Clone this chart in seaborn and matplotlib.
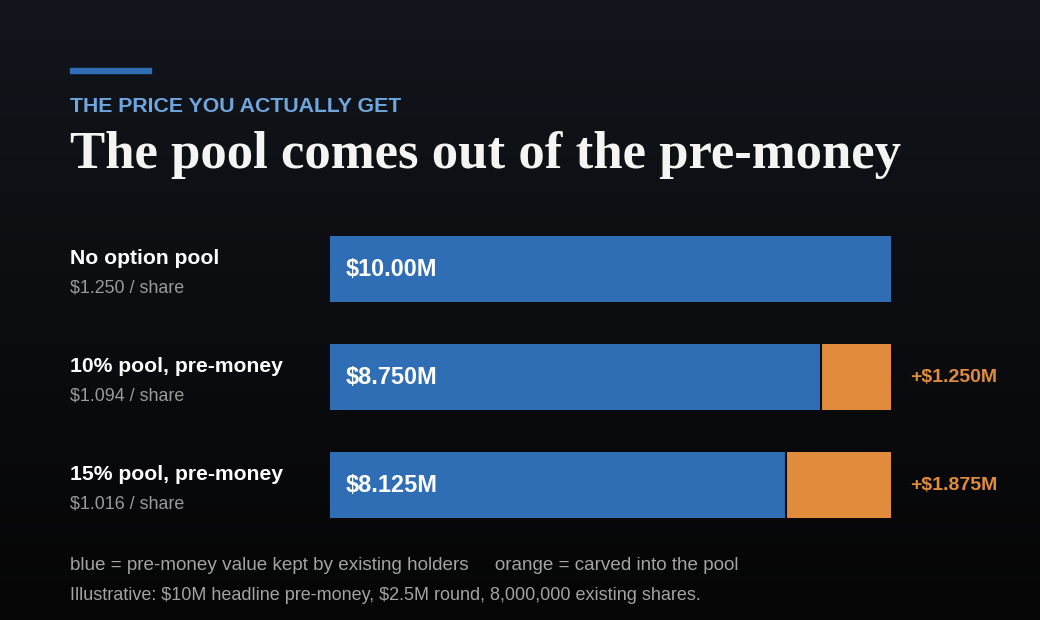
import numpy as np
import pandas as pd
import matplotlib
matplotlib.use("Agg")
import matplotlib.pyplot as plt
import seaborn as sns

# data
scenarios = ["No option pool", "10% pool, pre-money", "15% pool, pre-money"]
per_share = ["$1.250 / share", "$1.094 / share", "$1.016 / share"]
kept = [10.0, 8.75, 8.125]          # $M kept by existing holders
pool = [0.0, 1.25, 1.875]           # $M carved into the pool

BLUE = "#2f6db5"
ORANGE = "#e08c3c"
BG_TOP = "#12151c"
BG_BOT = "#050505"

df = pd.DataFrame({"scenario": scenarios, "kept": kept, "pool": pool})
df["total"] = df["kept"] + df["pool"]

sns.set_theme(style="white")
plt.rcParams["font.family"] = ["Liberation Sans", "DejaVu Sans"]
plt.rcParams["text.parse_math"] = False

W, H = 1040, 620
fig = plt.figure(figsize=(W / 100, H / 100), dpi=100)

# gradient background
bg = fig.add_axes([0, 0, 1, 1])
top = np.array(matplotlib.colors.to_rgb(BG_TOP))
bot = np.array(matplotlib.colors.to_rgb(BG_BOT))
t = np.linspace(0, 1, 256)[:, None]
grad = (top * (1 - t) + bot * t)[:, None, :]
bg.imshow(grad, aspect="auto", extent=[0, 1, 0, 1])
bg.set_axis_off()


def px(x, y):
    return x / W, 1 - y / H


# bars axes: x 330..891 maps 0..10, rows centred at 269 / 377 / 485
ax = fig.add_axes([330 / W, 1 - 539 / H, (891 - 330) / W, 324 / H])
ax.patch.set_alpha(0)
sns.barplot(data=df, x="total", y="scenario", color=ORANGE, saturation=1,
            width=0.61, linewidth=0, ax=ax)
sns.barplot(data=df, x="kept", y="scenario", color=BLUE, saturation=1,
            width=0.61, linewidth=0, ax=ax)
for i, (k, p) in enumerate(zip(kept, pool)):
    if p > 0:
        ax.vlines(k, i - 0.305, i + 0.305, color="#0b0c10", lw=1.5)
ax.set_xlim(0, 10)
ax.set_ylim(2.5, -0.5)
ax.set_axis_off()

for i, (k, p) in enumerate(zip(kept, pool)):
    lbl = f"${k:.2f}M" if k == 10 else f"${k:.3f}M"
    ax.text(0.28, i, lbl, color="white", fontsize=16.9, fontweight="bold",
            va="center", ha="left")
    if p > 0:
        ax.text(10.34, i, f"+${p:.3f}M", color=ORANGE, fontsize=14.0,
                fontweight="bold", va="center", ha="left")

# row labels
for i, (name, ps) in enumerate(zip(scenarios, per_share)):
    yc = 269 + 108 * i
    fig.text(*px(70, yc - 10), name, color="white", fontsize=15.2,
             fontweight="bold", va="center", ha="left")
    fig.text(*px(70, yc + 19), ps, color="#9a9a9a", fontsize=12.9,
             va="center", ha="left")

# header
bg.add_patch(plt.Rectangle(px(70, 73), 81 / W, 5 / H, color=BLUE,
                           transform=fig.transFigure))
fig.text(*px(70, 106), "THE PRICE YOU ACTUALLY GET", color="#6fa6dc",
         fontsize=15.3, fontweight="bold", va="center", ha="left")
fig.text(*px(70, 155), "The pool comes out of the pre-money", color="#f4f4f2",
         fontsize=38, fontweight="bold", va="center", ha="left",
         family="Liberation Serif")

# footer
fig.text(*px(70, 566), "blue = pre-money value kept by existing holders     orange = carved into the pool",
         color="#a3a3a3", fontsize=13.6, va="center", ha="left")
fig.text(*px(70, 596), "Illustrative: $10M headline pre-money, $2.5M round, 8,000,000 existing shares.",
         color="#a3a3a3", fontsize=13.0, va="center", ha="left")

fig.savefig("out.png", dpi=100)
